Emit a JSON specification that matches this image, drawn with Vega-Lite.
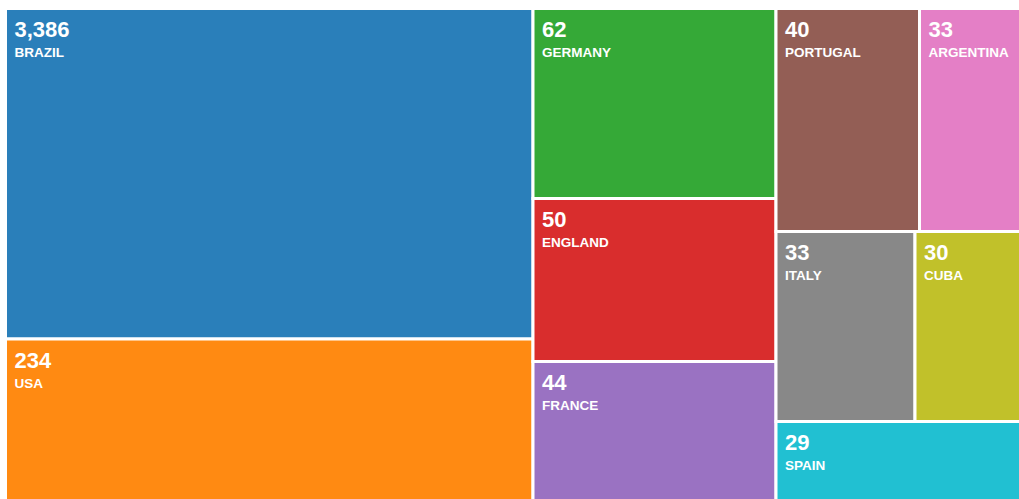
{
  "$schema": "https://vega.github.io/schema/vega-lite/v6.json",
  "width": 1019,
  "height": 499,
  "padding": 0,
  "autosize": "none",
  "background": "white",
  "config": {"view": {"stroke": null}},
  "data": {"values": [
    {"name": "BRAZIL", "value": 3386, "x0": 5.5, "x1": 533, "y0": 8.5, "y1": 339},
    {"name": "USA", "value": 234, "x0": 5.5, "x1": 533, "y0": 339, "y1": 501},
    {"name": "GERMANY", "value": 62, "x0": 533, "x1": 776, "y0": 8.5, "y1": 198.5},
    {"name": "ENGLAND", "value": 50, "x0": 533, "x1": 776, "y0": 198.5, "y1": 361.5},
    {"name": "FRANCE", "value": 44, "x0": 533, "x1": 776, "y0": 361.5, "y1": 501},
    {"name": "PORTUGAL", "value": 40, "x0": 776, "x1": 919.5, "y0": 8.5, "y1": 231.5},
    {"name": "ARGENTINA", "value": 33, "x0": 919.5, "x1": 1021, "y0": 8.5, "y1": 231.5},
    {"name": "ITALY", "value": 33, "x0": 776, "x1": 915, "y0": 231.5, "y1": 421.5},
    {"name": "CUBA", "value": 30, "x0": 915, "x1": 1021, "y0": 231.5, "y1": 421.5},
    {"name": "SPAIN", "value": 29, "x0": 776, "x1": 1021, "y0": 421.5, "y1": 501}
  ]},
  "encoding": {
    "x": {"field": "x0", "type": "quantitative", "scale": {"domain": [0, 1019], "nice": false, "zero": false}, "axis": null},
    "y": {"field": "y0", "type": "quantitative", "scale": {"domain": [0, 499], "nice": false, "zero": false, "reverse": true}, "axis": null}
  },
  "layer": [
    {
      "mark": {"type": "rect", "stroke": "white", "strokeWidth": 3, "clip": true},
      "encoding": {
        "x2": {"field": "x1"},
        "y2": {"field": "y1"},
        "color": {
          "field": "name", "type": "nominal", "legend": null,
          "scale": {
            "domain": ["BRAZIL", "USA", "GERMANY", "ENGLAND", "FRANCE", "PORTUGAL", "ARGENTINA", "ITALY", "CUBA", "SPAIN"],
            "range": ["#2a7fba", "#ff8a12", "#35a937", "#d92d2d", "#9a72c2", "#935e55", "#e47fc6", "#888888", "#c1c12a", "#21c0d2"]
          }
        }
      }
    },
    {
      "mark": {"type": "text", "align": "left", "baseline": "alphabetic", "dx": 9, "dy": 28.5, "font": "Liberation Sans", "fontSize": 22, "fontWeight": "bold", "color": "white"},
      "encoding": {"text": {"field": "value", "type": "quantitative", "format": ","}}
    },
    {
      "mark": {"type": "text", "align": "left", "baseline": "alphabetic", "dx": 9, "dy": 48.5, "font": "Liberation Sans", "fontSize": 13.5, "fontWeight": "bold", "color": "white"},
      "encoding": {"text": {"field": "name", "type": "nominal"}}
    }
  ]
}
